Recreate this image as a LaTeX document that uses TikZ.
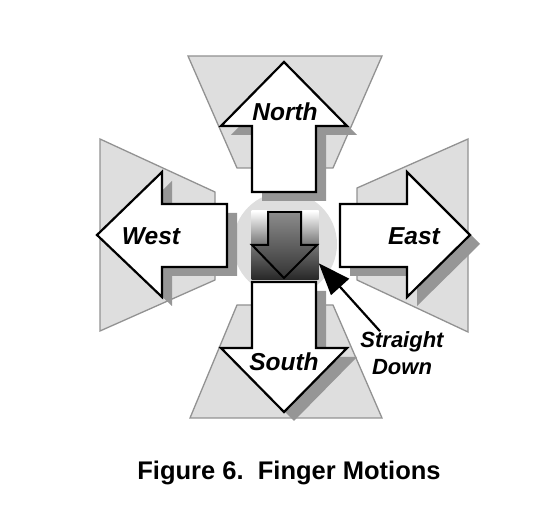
\documentclass[tikz,border=0pt]{standalone}
\usepackage{fontspec}
\setmainfont{Liberation Sans}
\usetikzlibrary{arrows.meta, shadows}

\definecolor{padgray}{HTML}{DEDEDE}
\definecolor{edgegray}{HTML}{929292}
\definecolor{shadowgray}{HTML}{969696}

\begin{document}
\begin{tikzpicture}[x=1pt, y=-1pt,
    every node/.style={font={\fontsize{24.5}{28}\selectfont\bfseries\itshape}, inner sep=0pt},
    sector/.style={fill=padgray, draw=edgegray, line width=1.3pt, line join=miter},
    motion/.style={fill=white, draw=black, line width=2.2pt, line join=miter,
        drop shadow={shadow xshift=10pt, shadow yshift=-9pt, fill=shadowgray, opacity=1}},
    >={Triangle[length=32pt, width=24pt]}]
    \useasboundingbox (0,0) rectangle (560,521);
    % finger zones
    \draw[sector] (188,56) -- (382,56) -- (333,168) -- (237,168) -- cycle;
    \draw[sector] (237,305) -- (333,305) -- (382,418) -- (190,418) -- cycle;
    \draw[sector] (100,139) -- (215,192) -- (215,280) -- (100,331) -- cycle;
    \draw[sector] (468,139) -- (357,188) -- (357,280) -- (468,332) -- cycle;
    \node[circle, fill=padgray, minimum size=104pt] (pad) at (285,244) {};
    % motions
    \draw[motion] (252,192) -- (252,126) -- (221,126) -- (284,62) -- (347,126) -- (316,126) -- (316,192) -- cycle;
    \draw[motion] (227,204) -- (162,204) -- (162,172) -- (97,235) -- (162,297) -- (162,267) -- (227,267) -- cycle;
    \draw[motion] (340,204) -- (407,204) -- (407,172) -- (470,235) -- (407,297) -- (407,267) -- (340,267) -- cycle;
    \draw[motion] (252,282) -- (252,348) -- (221,348) -- (284,412) -- (347,348) -- (316,348) -- (316,282) -- cycle;
    % press in the middle
    \node[minimum width=67pt, minimum height=69pt, top color=white, bottom color=black!85, middle color=black!55] (press) at (285,245.5) {};
    \draw[line width=2pt, top color=black!45, bottom color=black!80, line join=miter] (268,212) -- (268,245) -- (252,245) -- (284,278) -- (317,245) -- (301,245) -- (301,212) -- cycle;
    % labels
    \node (northtext) at (285,112) {North};
    \node (westtext) at (151,236) {West};
    \node (easttext) at (414,236) {East};
    \node (southtext) at (284,362) {South};
    \node[font={\fontsize{22}{27}\selectfont\bfseries\itshape}, align=center] (downtext) at (402,353) {Straight\\Down};
    \draw[->, line width=2.2pt] ([xshift=-22pt]downtext.north) -- ([yshift=17pt]press.south east);
    \node[font={\fontsize{25.5}{30}\selectfont\bfseries}] (caption) at (289,473) {Figure 6.\ \ Finger Motions};
\end{tikzpicture}
\end{document}
